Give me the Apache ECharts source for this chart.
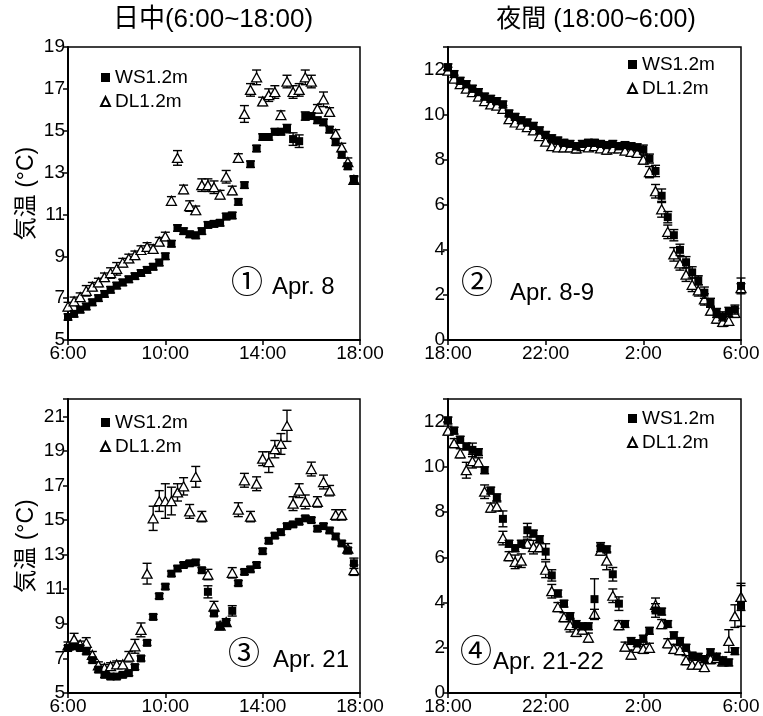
<!DOCTYPE html>
<html>
<head>
<meta charset="utf-8">
<script src="https://cdn.jsdelivr.net/npm/echarts@6.0.0/dist/echarts.min.js"></script>
<style>
  html, body { margin: 0; background: #fff; }
  #chart { width: 763px; height: 716px; }
</style>
</head>
<body>
<div id="chart"></div>
<script>
// 15分ごとの気温 (WS1.2m = ■, DL1.2m = △), 誤差棒つき

// ① Apr. 8 日中 6:00〜17:45
const ws1 = [6.1, 6.25, 6.45, 6.6, 6.8, 7.0, 7.2, 7.4, 7.6, 7.75, 7.9, 8.05, 8.2, 8.35, 8.5, 8.7,
  9.0, 9.6, 10.35, 10.2, 10.05, 10.0, 10.2, 10.5, 10.55, 10.6, 10.9, 10.95, 11.6, 12.4, 13.4, 14.15,
  14.7, 14.7, 14.95, 14.95, 15.1, 14.6, 14.5, 15.7, 15.7, 15.5, 15.4, 15.05, 14.45, 13.85, 13.3, 12.65];
const ws1Err = [0.15, 0.15, 0.15, 0.15, 0.15, 0.15, 0.15, 0.15, 0.15, 0.15, 0.15, 0.15, 0.15, 0.15, 0.15, 0.15,
  0.15, 0.15, 0.15, 0.15, 0.15, 0.15, 0.15, 0.15, 0.15, 0.15, 0.15, 0.15, 0.15, 0.15, 0.15, 0.15,
  0.15, 0.15, 0.15, 0.15, 0.2, 0.3, 0.3, 0.2, 0.15, 0.15, 0.15, 0.15, 0.15, 0.15, 0.15, 0.15];
const dl1 = [6.6, 6.85, 7.05, 7.35, 7.55, 7.75, 8.0, 8.2, 8.4, 8.7, 8.9, 9.05, 9.3, 9.45, 9.35, 9.7,
  9.95, 11.65, 13.7, 12.2, 11.4, 11.2, 12.4, 12.4, 12.3, 11.95, 12.8, 12.15, 13.7, 15.8, 16.95, 17.55,
  16.4, 16.7, 16.85, 15.75, 17.35, 16.85, 16.95, 17.55, 17.35, 16.05, 16.5, 15.9, 14.85, 14.2, 13.5, 12.65];
const dl1Err = [0.2, 0.2, 0.2, 0.25, 0.2, 0.2, 0.2, 0.25, 0.3, 0.2, 0.2, 0.2, 0.2, 0.2, 0.2, 0.2,
  0.2, 0.2, 0.35, 0.2, 0.25, 0.2, 0.3, 0.3, 0.3, 0.2, 0.3, 0.2, 0.2, 0.4, 0.3, 0.35,
  0.2, 0.3, 0.3, 0.2, 0.3, 0.3, 0.3, 0.35, 0.3, 0.2, 0.35, 0.2, 0.2, 0.2, 0.2, 0.2];

// ② Apr. 8-9 夜間 18:00〜6:00
const ws2 = [12.1, 11.8, 11.5, 11.35, 11.15, 11.0, 10.8, 10.7, 10.6, 10.45, 10.05, 9.9, 9.75, 9.65, 9.5, 9.3,
  9.1, 8.95, 8.85, 8.75, 8.7, 8.6, 8.7, 8.75, 8.75, 8.7, 8.65, 8.7, 8.6, 8.65, 8.6, 8.55,
  8.45, 8.05, 7.5, 6.4, 5.45, 4.65, 4.0, 3.45, 3.0, 2.65, 2.1, 1.65, 1.2, 1.05, 1.25, 1.35,
  2.4];
const ws2Err = [0.15, 0.15, 0.15, 0.15, 0.15, 0.15, 0.15, 0.15, 0.15, 0.15, 0.15, 0.15, 0.15, 0.15, 0.15, 0.15,
  0.15, 0.15, 0.15, 0.15, 0.15, 0.15, 0.15, 0.15, 0.15, 0.15, 0.15, 0.15, 0.15, 0.15, 0.15, 0.15,
  0.2, 0.2, 0.25, 0.3, 0.25, 0.25, 0.25, 0.25, 0.25, 0.2, 0.25, 0.2, 0.2, 0.2, 0.2, 0.2,
  0.35];
const dl2 = [11.95, 11.6, 11.35, 11.15, 11.0, 10.8, 10.6, 10.45, 10.4, 10.25, 9.8, 9.65, 9.55, 9.45, 9.3, 9.05,
  8.8, 8.6, 8.55, 8.55, 8.55, 8.5, 8.6, 8.55, 8.6, 8.5, 8.45, 8.5, 8.5, 8.4, 8.35, 8.3,
  8.0, 7.45, 6.6, 5.8, 4.8, 3.8, 3.4, 2.9, 2.45, 2.2, 1.8, 1.3, 0.95, 0.8, 0.85, 1.2,
  2.3];
const dl2Err = [0.15, 0.15, 0.15, 0.15, 0.15, 0.15, 0.15, 0.15, 0.15, 0.15, 0.15, 0.15, 0.15, 0.15, 0.15, 0.15,
  0.15, 0.15, 0.15, 0.15, 0.15, 0.2, 0.15, 0.15, 0.15, 0.15, 0.2, 0.15, 0.15, 0.15, 0.2, 0.15,
  0.2, 0.25, 0.3, 0.35, 0.3, 0.3, 0.3, 0.3, 0.3, 0.25, 0.25, 0.2, 0.2, 0.2, 0.2, 0.2,
  0.2];

// ③ Apr. 21 日中 6:00〜17:45
const ws3 = [7.6, 7.7, 7.6, 7.4, 6.9, 6.35, 6.05, 5.95, 5.95, 6.05, 6.15, 6.5, 7.0, 7.9, 9.4, 10.6,
  11.15, 11.9, 12.2, 12.4, 12.5, 12.55, 12.1, 10.85, 9.6, 8.85, 9.05, 9.75, 11.35, 12.0, 12.15, 12.4,
  13.2, 13.8, 14.1, 14.3, 14.65, 14.75, 14.9, 15.1, 15.0, 14.5, 14.65, 14.4, 14.05, 13.65, 13.25, 12.5];
const ws3Err = [0.15, 0.15, 0.15, 0.15, 0.15, 0.15, 0.15, 0.15, 0.15, 0.15, 0.15, 0.15, 0.15, 0.15, 0.15, 0.15,
  0.15, 0.15, 0.15, 0.15, 0.15, 0.15, 0.15, 0.35, 0.15, 0.15, 0.15, 0.3, 0.15, 0.15, 0.15, 0.15,
  0.15, 0.15, 0.15, 0.15, 0.15, 0.15, 0.15, 0.15, 0.15, 0.15, 0.15, 0.15, 0.15, 0.15, 0.15, 0.3];
const dl3 = [7.75, 8.1, 7.8, 7.9, 7.2, 6.6, 6.45, 6.55, 6.65, 6.65, 7.1, 7.7, 8.65, 11.9, 15.1, 16.1,
  16.1, 16.1, 16.6, 16.95, 15.5, 17.5, 15.2, 11.85, 10.0, 8.9, 9.1, 11.95, 15.6, 17.3, 15.2, 17.1,
  18.55, 18.35, 19.1, 19.4, 20.45, 15.95, 16.7, 16.05, 17.95, 16.05, 17.2, 16.7, 15.3, 15.3, 13.35, 12.1];
const dl3Err = [0.2, 0.35, 0.2, 0.3, 0.2, 0.2, 0.2, 0.2, 0.2, 0.2, 0.3, 0.4, 0.4, 0.6, 0.7, 0.6,
  1.0, 0.8, 0.5, 0.5, 0.4, 0.6, 0.3, 0.3, 0.3, 0.2, 0.2, 0.3, 0.4, 0.4, 0.3, 0.4,
  0.4, 0.6, 0.5, 0.6, 0.9, 0.4, 0.4, 0.4, 0.4, 0.3, 0.4, 0.3, 0.3, 0.3, 0.3, 0.3];

// ④ Apr. 21-22 夜間 18:00〜6:00
const ws4 = [12.05, 11.6, 11.2, 10.9, 10.75, 10.65, 9.85, 8.95, 8.65, 7.7, 6.6, 6.4, 6.6, 7.2, 7.05, 6.8,
  6.25, 5.2, 4.4, 3.95, 3.4, 3.05, 2.95, 2.95, 4.15, 6.45, 6.35, 5.25, 3.95, 3.05, 2.3, 2.2,
  2.4, 2.75, 3.65, 3.6, 3.05, 2.55, 2.3, 2.0, 1.65, 1.6, 1.5, 1.8, 1.6, 1.4, 1.35, 1.85,
  3.85];
const ws4Err = [0.15, 0.15, 0.15, 0.15, 0.3, 0.15, 0.15, 0.15, 0.15, 0.35, 0.15, 0.15, 0.15, 0.3, 0.15, 0.15,
  0.35, 0.25, 0.15, 0.15, 0.15, 0.15, 0.15, 0.15, 0.9, 0.2, 0.15, 0.3, 0.3, 0.15, 0.15, 0.15,
  0.15, 0.15, 0.3, 0.15, 0.15, 0.15, 0.15, 0.15, 0.15, 0.15, 0.15, 0.15, 0.15, 0.15, 0.15, 0.15,
  0.9];
const dl4 = [11.6, 11.05, 10.6, 9.85, 10.25, 10.2, 8.9, 8.2, 8.25, 6.85, 6.05, 5.8, 5.85, 6.6, 6.45, 6.45,
  5.45, 4.5, 3.8, 3.35, 3.0, 2.7, 2.8, 2.45, 3.5, 6.3, 5.85, 4.3, 3.0, 2.05, 1.7, 2.0,
  1.95, 2.0, 3.9, 3.05, 2.2, 1.95, 1.9, 1.45, 1.25, 1.25, 1.15, 1.5, 1.55, 1.4, 2.3, 3.4,
  4.25];
const dl4Err = [0.2, 0.2, 0.2, 0.35, 0.3, 0.2, 0.3, 0.2, 0.2, 0.3, 0.2, 0.3, 0.3, 0.2, 0.3, 0.2,
  0.35, 0.3, 0.2, 0.2, 0.3, 0.2, 0.2, 0.2, 0.2, 0.2, 0.4, 0.3, 0.2, 0.2, 0.2, 0.2,
  0.2, 0.2, 0.3, 0.2, 0.2, 0.2, 0.2, 0.2, 0.2, 0.2, 0.2, 0.2, 0.2, 0.2, 0.5, 0.5,
  0.6];

const latin = "'Liberation Sans', Arial, sans-serif";
const mixed = "'Liberation Sans', 'Noto Sans CJK JP', sans-serif";

// 時刻 (時) : 開始時刻から15分刻み
function times(start, n) {
  return Array.from({ length: n }, (_, i) => start + i * 0.25);
}

const panels = [
  { ws: ws1, wsErr: ws1Err, dl: dl1, dlErr: dl1Err, start: 6, ymin: 5, ymax: 19,
    grid: { left: 68, top: 47, width: 292, height: 293 }, legend: { left: 95, top: 63 }, yName: true },
  { ws: ws2, wsErr: ws2Err, dl: dl2, dlErr: dl2Err, start: 18, ymin: 0, ymax: 13,
    grid: { left: 448, top: 47, width: 293, height: 293 }, legend: { left: 622, top: 50 }, yName: false },
  { ws: ws3, wsErr: ws3Err, dl: dl3, dlErr: dl3Err, start: 6, ymin: 5, ymax: 22,
    grid: { left: 68, top: 399, width: 292, height: 294 }, legend: { left: 95, top: 408 }, yName: true },
  { ws: ws4, wsErr: ws4Err, dl: dl4, dlErr: dl4Err, start: 18, ymin: 0, ymax: 13,
    grid: { left: 448, top: 399, width: 293, height: 294 }, legend: { left: 622, top: 404 }, yName: false }
];

function errBar(params, api) {
  const x = api.value(0), y = api.value(1), e = api.value(2);
  const hi = api.coord([x, y + e]);
  const lo = api.coord([x, y - e]);
  const w = 4.5;
  const st = { stroke: '#000', lineWidth: 1.4 };
  return {
    type: 'group',
    children: [
      { type: 'line', shape: { x1: hi[0], y1: hi[1], x2: lo[0], y2: lo[1] }, style: st },
      { type: 'line', shape: { x1: hi[0] - w, y1: hi[1], x2: hi[0] + w, y2: hi[1] }, style: st },
      { type: 'line', shape: { x1: lo[0] - w, y1: lo[1], x2: lo[0] + w, y2: lo[1] }, style: st }
    ]
  };
}

const grid = [], xAxis = [], yAxis = [], series = [], legend = [];

panels.forEach((p, i) => {
  const t = times(p.start, p.ws.length);
  grid.push(Object.assign({ show: true, borderColor: '#000', borderWidth: 1.5 }, p.grid));
  xAxis.push({
    type: 'value', gridIndex: i, min: p.start, max: p.start + 12, interval: 4,
    axisLine: { lineStyle: { color: '#000', width: 2 } },
    axisTick: { length: 5, lineStyle: { color: '#000', width: 1.5 } },
    axisLabel: { color: '#000', fontSize: 19, fontFamily: latin, margin: 4,
      formatter: v => (v % 24) + ':00' },
    splitLine: { show: false }
  });
  yAxis.push({
    type: 'value', gridIndex: i, min: p.ymin, max: p.ymax, interval: 2,
    name: p.yName ? '気温 (°C)' : '', nameLocation: 'middle', nameGap: 30,
    nameTextStyle: { color: '#000', fontSize: 23, fontFamily: mixed },
    axisLine: { lineStyle: { color: '#000', width: 2 } },
    axisTick: { length: 5, lineStyle: { color: '#000', width: 1.5 } },
    axisLabel: { color: '#000', fontSize: 19, fontFamily: latin, margin: 3,
      formatter: v => ((v - p.ymin) % 2 === 0 ? String(v) : '') },
    splitLine: { show: false }
  });
  series.push({
    type: 'custom', xAxisIndex: i, yAxisIndex: i, renderItem: errBar, z: 1,
    encode: { x: 0, y: 1 }, silent: true,
    data: t.map((x, k) => [x, p.dl[k], p.dlErr[k]])
  });
  series.push({
    name: 'DL1.2m', type: 'scatter', xAxisIndex: i, yAxisIndex: i, z: 2,
    symbol: 'triangle', symbolSize: [10, 9],
    itemStyle: { color: '#fff', borderColor: '#000', borderWidth: 1.3, opacity: 1 },
    data: t.map((x, k) => [x, p.dl[k]])
  });
  series.push({
    type: 'custom', xAxisIndex: i, yAxisIndex: i, renderItem: errBar, z: 3,
    encode: { x: 0, y: 1 }, silent: true,
    data: t.map((x, k) => [x, p.ws[k], p.wsErr[k]])
  });
  series.push({
    name: 'WS1.2m', type: 'scatter', xAxisIndex: i, yAxisIndex: i, z: 4,
    symbol: 'rect', symbolSize: 8,
    itemStyle: { color: '#000', opacity: 1 },
    data: t.map((x, k) => [x, p.ws[k]])
  });
  legend.push(Object.assign({
    orient: 'vertical', itemWidth: 9, itemHeight: 9, itemGap: 5, selectedMode: false,
    textStyle: { color: '#000', fontSize: 19, fontFamily: latin },
    data: [{ name: 'WS1.2m', icon: 'rect' }, { name: 'DL1.2m', icon: 'triangle' }]
  }, p.legend));
});

function label(x, y, text, size, align) {
  return { type: 'text', x: x, y: y, silent: true,
    style: { text: text, fill: '#000', fontSize: size, fontFamily: mixed,
      textAlign: align || 'center', textVerticalAlign: 'middle' } };
}

const chart = echarts.init(document.getElementById('chart'));
chart.setOption({
  animation: false,
  backgroundColor: '#fff',
  grid, xAxis, yAxis, series, legend,
  graphic: [
    label(213, 20, '日中(6:00~18:00)', 26),
    label(596, 20, '夜間 (18:00~6:00)', 25),
    label(247, 284, '①', 32),
    label(272, 287, 'Apr. 8', 24, 'left'),
    label(477, 284, '②', 32),
    label(510, 293, 'Apr. 8-9', 24, 'left'),
    label(244, 655, '③', 32),
    label(273, 660, 'Apr. 21', 24, 'left'),
    label(476, 653, '④', 32),
    label(493, 662, 'Apr. 21-22', 24, 'left')
  ]
});
</script>
</body>
</html>
